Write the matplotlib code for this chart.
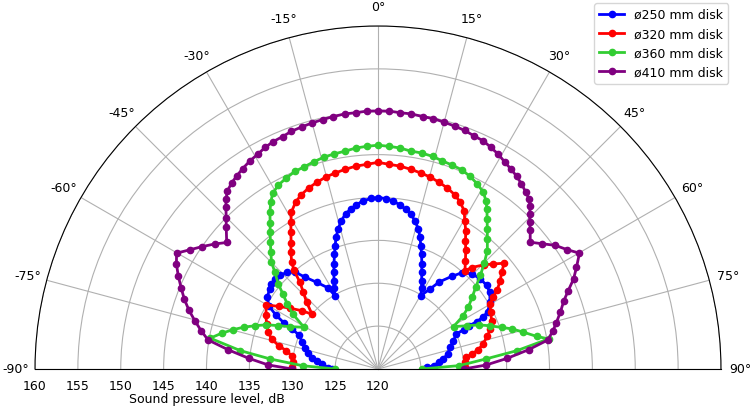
import numpy as np
import matplotlib
matplotlib.use("Agg")
import matplotlib.pyplot as plt
from matplotlib.transforms import offset_copy

# angle (deg) / sound pressure level (dB)
ANG_250 = [-90, -88.3, -84.9, -82.5, -80.1, -77.1, -73.9, -70.4, -66.7, -65.1, -63.9, -62.1,
           -60.0, -57.0, -53.6, -51.4, -48.9, -46.2, -43.4, -40.6, -38.5, -35.3, -31.6, -30.4,
           -28.6, -26.5, -24.5, -22.7, -20.8, -19.2, -17.7, -15.9, -13.9, -11.8, -9.7, -7.6,
           -5.0, -2.3, 0, 2.6, 5.0, 7.6, 9.8, 11.9, 14.0, 16.1, 17.7, 19.2, 20.8, 22.6, 24.3,
           26.3, 28.4, 30.2, 33.0, 35.1, 38.5, 41.1, 44.6, 48.6, 52.5, 55.6, 59.2, 62.6, 63.7,
           64.4, 64.6, 65.3, 66.0, 69.4, 73.2, 77.8, 81.3, 83.7, 86.6, 88.0, 90]
SPL_250 = [125.4, 125.8, 126.6, 127.2, 127.8, 128.4, 128.9, 129.4, 130.0, 131.1, 132.2, 133.5,
           134.7, 135.4, 135.7, 135.9, 136.0, 135.8, 135.5, 134.9, 133.7, 132.4, 131.1, 129.9,
           130.7, 131.5, 132.4, 133.3, 134.3, 135.2, 136.1, 137.0, 137.8, 138.5, 138.9, 139.3,
           139.7, 139.9, 140.0, 139.9, 139.7, 139.3, 138.9, 138.5, 137.8, 137.0, 136.1, 135.2,
           134.3, 133.3, 132.4, 131.5, 130.7, 129.9, 131.1, 132.4, 133.8, 134.9, 135.6, 135.9,
           136.0, 135.8, 135.2, 134.4, 133.6, 132.8, 131.8, 131.0, 130.0, 129.4, 128.8, 128.3,
           127.7, 127.1, 126.5, 125.7, 125.4]

ANG_320 = [-90, -88.9, -85.5, -81.2, -78.7, -76.8, -74.2, -71.5, -68.0, -64.5, -60.1, -57.8,
           -55.4, -52.6, -50.3, -46.9, -44.2, -42.0, -40.4, -39.0, -36.7, -34.5, -32.5, -30.7,
           -28.9, -26.3, -23.8, -21.0, -18.2, -15.2, -12.3, -9.3, -6.2, -3.2, 0, 3.2, 6.2, 9.3,
           12.3, 15.2, 18.2, 21.0, 23.8, 26.2, 28.6, 30.4, 32.4, 34.3, 36.5, 39.0, 41.5, 42.7,
           45.4, 47.7, 50.0, 52.0, 54.1, 56.4, 58.1, 59.9, 63.3, 67.0, 70.5, 73.3, 76.6, 79.1,
           80.9, 82.5, 85.6, 88.9, 90]
SPL_320 = [130.0, 130.0, 130.0, 130.2, 130.9, 131.9, 132.9, 133.5, 134.0, 134.5, 135.0, 133.7,
           132.5, 131.2, 130.0, 131.4, 132.5, 133.6, 135.1, 136.0, 137.0, 137.9, 138.9, 139.9,
           140.9, 141.7, 142.2, 142.6, 142.9, 143.2, 143.4, 143.6, 143.8, 143.9, 144.1, 143.9,
           143.8, 143.6, 143.4, 143.2, 142.9, 142.6, 142.2, 141.7, 141.0, 140.0, 139.1, 138.1,
           137.2, 136.2, 135.3, 136.1, 137.3, 138.2, 139.2, 138.3, 137.6, 136.7, 135.8, 135.1,
           134.7, 134.4, 133.9, 133.3, 132.6, 131.9, 131.1, 130.4, 130.2, 130.1, 130.0]

ANG_360 = [-90, -87.5, -84.7, -82.4, -79.6, -77.1, -74.8, -72.7, -70.6, -68.4, -66.5, -64.3,
           -60.6, -57.2, -54.4, -51.8, -49.5, -46.8, -44.9, -42.5, -40.3, -38.3, -36.4, -34.6,
           -32.8, -30.9, -28.4, -25.7, -22.8, -20.0, -17.2, -14.3, -11.5, -8.5, -5.7, -2.9, 0,
           2.9, 5.7, 8.5, 11.4, 14.4, 17.2, 20.0, 22.8, 25.5, 28.2, 30.8, 32.7, 34.2, 36.1, 38.0,
           40.1, 42.7, 45.1, 47.5, 50.0, 52.7, 55.5, 58.0, 60.7, 64.0, 66.3, 68.9, 71.4, 73.3,
           75.8, 78.4, 80.0, 82.5, 84.7, 87.6, 90]
SPL_360 = [125.0, 128.8, 132.6, 136.2, 139.9, 138.7, 137.5, 136.4, 135.2, 134.0, 132.7, 131.4,
           129.9, 131.8, 133.0, 134.1, 135.3, 136.5, 137.6, 138.5, 139.4, 140.3, 141.2, 142.2,
           143.1, 143.9, 144.4, 144.7, 145.0, 145.1, 145.3, 145.5, 145.6, 145.7, 145.9, 146.0,
           146.1, 146.0, 145.9, 145.7, 145.7, 145.6, 145.4, 145.3, 145.2, 144.9, 144.5, 144.0,
           143.3, 142.6, 141.6, 140.7, 139.8, 138.8, 137.5, 136.2, 134.9, 133.8, 132.8, 131.7,
           130.1, 131.5, 132.8, 134.0, 135.2, 136.3, 137.5, 138.9, 140.2, 136.3, 132.6, 129.5,
           125.1]

ANG_410 = [-90, -87.9, -85.3, -82.7, -80.3, -77.8, -75.2, -72.7, -70.2, -67.7, -65.0, -62.5,
           -60.1, -57.7, -55.2, -52.6, -50.1, -47.0, -45.1, -43.2, -41.8, -40.2, -38.2, -36.2,
           -34.0, -31.6, -29.3, -27.0, -24.7, -22.3, -20.0, -17.5, -15.1, -12.5, -10.0, -7.4,
           -5.0, -2.5, 0, 2.5, 5.0, 7.4, 10.0, 12.5, 15.0, 17.6, 20.0, 22.4, 24.8, 27.0, 29.3,
           31.5, 33.6, 35.7, 37.8, 39.8, 41.7, 43.0, 44.4, 46.0, 47.7, 50.2, 52.7, 55.1, 57.8,
           60.1, 62.9, 65.3, 67.6, 69.8, 72.6, 75.4, 77.6, 80.3, 82.7, 85.3, 87.9, 90]
SPL_410 = [130.0, 132.8, 135.1, 137.6, 140.1, 141.1, 142.1, 143.1, 144.0, 144.8, 145.7, 146.5,
           147.1, 146.0, 145.0, 144.0, 143.0, 144.2, 145.0, 145.9, 146.6, 147.2, 147.6, 147.9,
           148.2, 148.5, 148.7, 149.0, 149.2, 149.3, 149.5, 149.6, 149.7, 149.8, 149.9, 150.0,
           150.0, 150.1, 150.1, 150.1, 150.0, 150.0, 149.9, 149.9, 149.8, 149.7, 149.6, 149.4,
           149.3, 149.0, 148.7, 148.3, 148.0, 147.7, 147.3, 146.9, 146.5, 146.0, 145.3, 144.6,
           144.0, 143.1, 144.1, 145.2, 146.1, 147.1, 146.0, 145.1, 144.0, 143.1, 142.3, 141.5,
           140.9, 140.1, 137.7, 135.1, 132.6, 130.0]

SERIES = [
    (ANG_250, SPL_250, "blue", "ø250 mm disk"),
    (ANG_320, SPL_320, "red", "ø320 mm disk"),
    (ANG_360, SPL_360, "limegreen", "ø360 mm disk"),
    (ANG_410, SPL_410, "purple", "ø410 mm disk"),
]
THETA_TICKS = list(range(-90, 91, 15))
R_TICKS = list(range(120, 161, 5))

plt.rcParams["font.size"] = 9

fig = plt.figure(figsize=(7.54, 4.10), dpi=100)
# a half-disc polar axes only fills half of its box, so the box is doubled
# around the wanted half disc (centre at x=378, radius 343 px)
ax = fig.add_axes([-308 / 754, -131.5 / 410, 1372 / 754, 686 / 410], projection="polar")
ax.set_theta_zero_location("N")
ax.set_theta_direction(-1)
ax.set_thetamin(-90)
ax.set_thetamax(90)

for ang, spl, color, label in SERIES:
    ax.plot(np.deg2rad(ang), spl, "-o", color=color, lw=2, ms=4.5, label=label)

ax.set_rlim(120, 160)
ax.set_rticks(R_TICKS)
ax.set_thetagrids(THETA_TICKS, labels=[f"{a}°" for a in THETA_TICKS])
ax.grid(True, color="#b0b0b0", lw=0.8)

ax.text(np.deg2rad(-90), 140, "Sound pressure level, dB", ha="center", va="center",
        transform=offset_copy(ax.transData, fig=fig, y=-30, units="dots"))

ax.legend(loc="upper right", bbox_to_anchor=(728 / 754, 406 / 410),
          bbox_transform=fig.transFigure, borderaxespad=0)

fig.savefig("out.png", dpi=100)
